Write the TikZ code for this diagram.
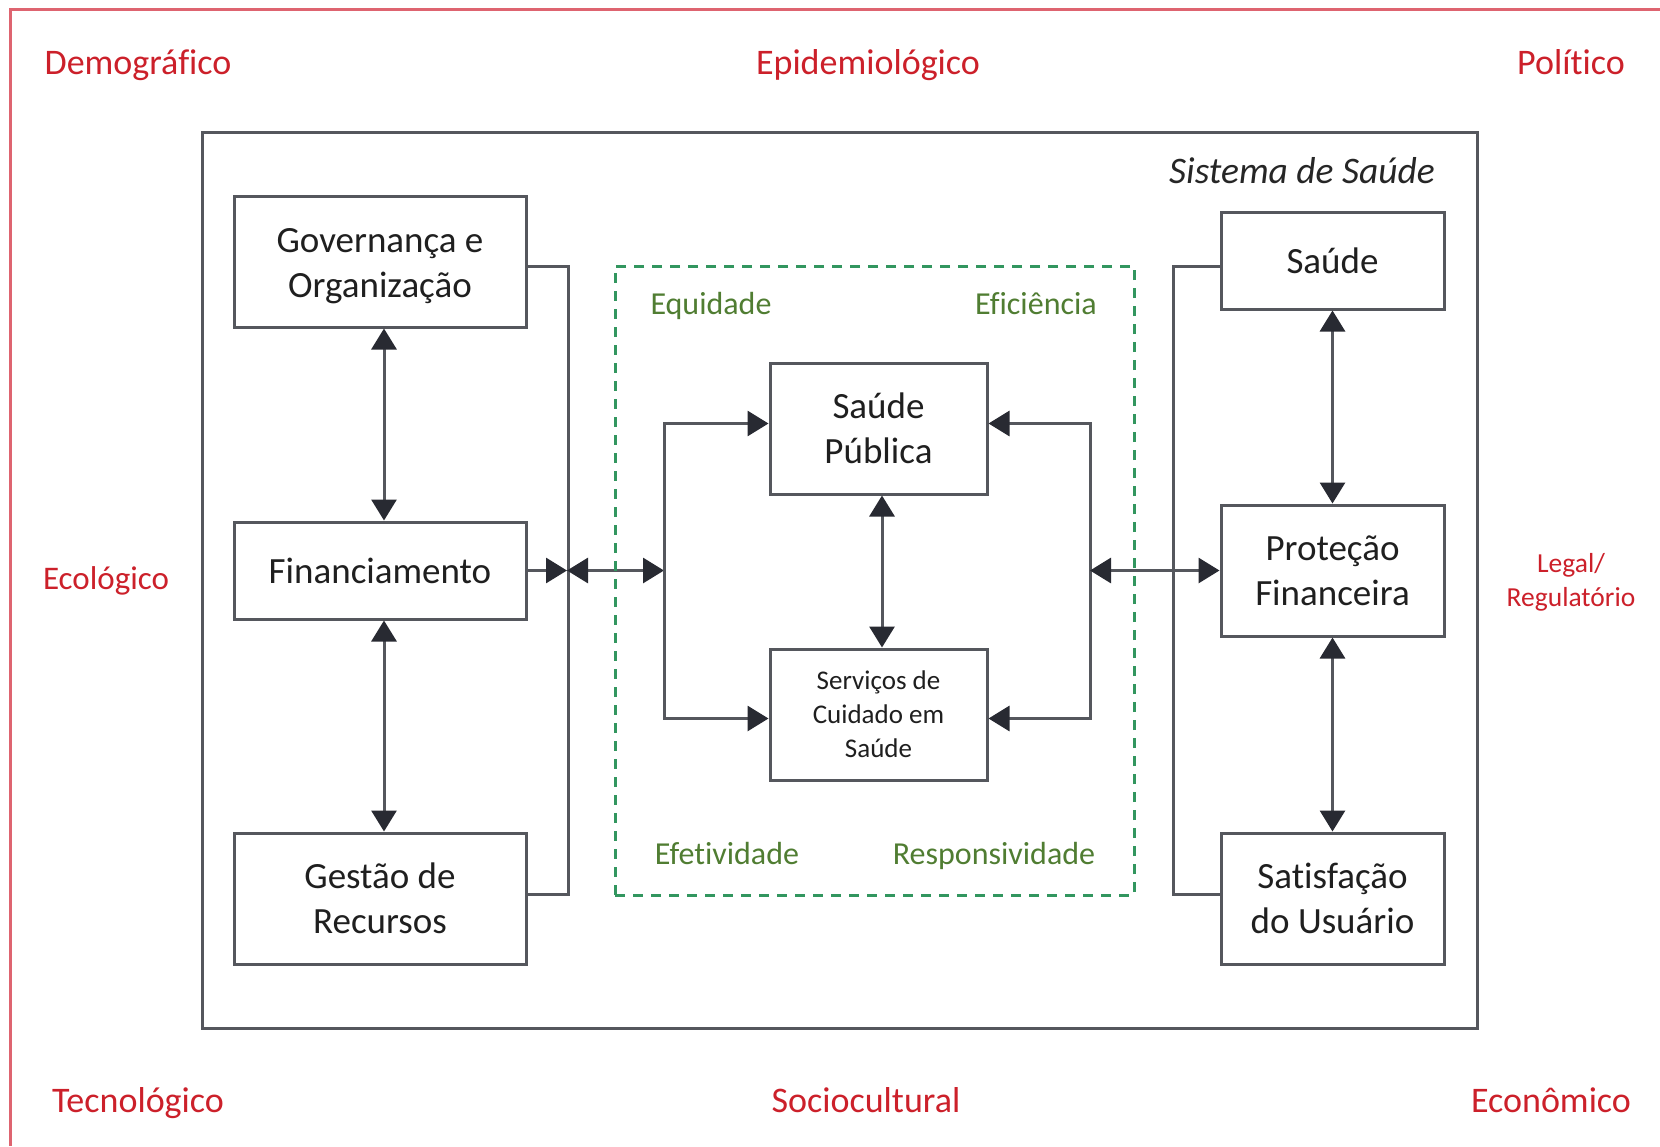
\documentclass[tikz,border=0pt]{standalone}
\usepackage{fontspec}
\setmainfont[Ligatures={NoCommon}]{Carlito}
\usetikzlibrary{arrows.meta}
\definecolor{redlab}{RGB}{204,32,42}
\definecolor{framec}{RGB}{222,100,112}
\definecolor{greenlab}{RGB}{80,125,50}
\definecolor{greendash}{RGB}{50,150,95}
\definecolor{linec}{RGB}{85,87,93}
\definecolor{tipc}{RGB}{40,42,50}
\begin{document}
\begin{tikzpicture}[x=1pt,y=-1pt,
  box/.style={draw=linec, line width=3pt, minimum width=292pt, align=center, inner sep=0pt,
    font=\fontsize{37}{45}\selectfont, text=black!88},
  conn/.style={draw=linec, line width=3pt},
  tip/.style={-{Triangle[length=21pt,width=25pt,color=tipc]}},
  both/.style={{Triangle[length=21pt,width=25pt,color=tipc]}-{Triangle[length=21pt,width=25pt,color=tipc]}},
  redl/.style={text=redlab, font=\fontsize{36}{44}\selectfont, inner sep=0pt, align=center},
  greenl/.style={text=greenlab, font=\fontsize{32}{38}\selectfont, inner sep=0pt, text height=22pt, text depth=6pt},
]
\useasboundingbox (0,0) rectangle (1660,1146);
\fill[white] (0,0) rectangle (1660,1146);

% outer frame
\draw[framec, line width=3pt] (10,1146) -- (10,9) -- (1660,9);

% context labels
\node[redl, anchor=base] (demo) at (138,74) {Demográfico};
\node[redl, anchor=base] (epid) at (868,74) {Epidemiológico};
\node[redl, anchor=base] (poli) at (1571,74) {Político};
\node[redl, anchor=base, font=\fontsize{33}{42}\selectfont] (ecol) at (106,589) {Ecológico};
\node[redl, font=\fontsize{27.5}{34}\selectfont] (legal) at (1571,582) {Legal/\\Regulatório};
\node[redl, anchor=base] (tecn) at (138,1112) {Tecnológico};
\node[redl, anchor=base] (soci) at (866,1112) {Sociocultural};
\node[redl, anchor=base] (econ) at (1551,1112) {Econômico};

% system box
\node[draw=linec, line width=3pt, minimum width=1275pt, minimum height=896pt, inner sep=0pt] (sys) at (839.5,580) {};
\node[anchor=east, font=\itshape\fontsize{37.5}{44}\selectfont, text=black!85, inner sep=0pt] (syslab) at (1435,171) {Sistema de Saúde};

% boxes
\node[box, minimum height=131pt] (gov) at (380,261.5) {\rule{0pt}{32.5pt}Governança e\\Organização};
\node[box, minimum height=97pt] (fin) at (380,570.5) {Financiamento};
\node[box, minimum height=131pt] (ges) at (380,898.5) {Gestão de\\Recursos};
\node[box, minimum width=217pt, minimum height=131pt] (sp) at (878.5,428.5) {Saúde\\Pública};
\node[box, minimum width=217pt, minimum height=131pt, font=\fontsize{27}{34}\selectfont] (sv) at (878.5,714.5) {Serviços de\\Cuidado em\\Saúde};
\node[box, minimum width=223pt, minimum height=97pt] (sa) at (1332.5,260.5) {Saúde};
\node[box, minimum width=223pt, minimum height=131pt] (pf) at (1332.5,570.5) {Proteção\\Financeira};
\node[box, minimum width=223pt, minimum height=131pt] (su) at (1332.5,898.5) {Satisfação\\do Usuário};

% connectors left
\draw[conn, both] ([xshift=4pt]gov.south) -- ([xshift=4pt]fin.north);
\draw[conn, both] ([xshift=4pt]fin.south) -- ([xshift=4pt]ges.north);
\draw[conn] ([yshift=-4.5pt]gov.east) -- ++(41,0) |- ([yshift=4.5pt]ges.east);
\coordinate (bl) at (567,570.5);
\coordinate (il) at (664,570.5);
\draw[conn, tip] (fin.east) -- (bl);
\draw[conn, both] (bl) -- (il);
\draw[conn, tip] (il) |- ([yshift=5pt]sp.west);
\draw[conn, tip] (il) |- ([yshift=-4pt]sv.west);

% center
\draw[conn, both] ([xshift=3.5pt]sp.south) -- ([xshift=3.5pt]sv.north);

% connectors right
\coordinate (ir) at (1090,570.5);
\draw[conn, tip] (ir) |- ([yshift=5pt]sp.east);
\draw[conn, tip] (ir) |- ([yshift=-4pt]sv.east);
\draw[conn, both] (ir) -- (pf.west);
\draw[conn] ([yshift=-6pt]sa.west) -- ++(-46,0) |- ([yshift=4.5pt]su.west);
\draw[conn, both] (sa.south) -- (pf.north);
\draw[conn, both] (pf.south) -- (su.north);

% dashed box
\node[draw=greendash, line width=3pt, dash pattern=on 10pt off 8pt, minimum width=519pt, minimum height=629pt, inner sep=0pt] (dbox) at (874.5,580.5) {};
\node[greenl] (equi) at (711,306) {Equidade};
\node[greenl] (efic) at (1036,306) {Eficiência};
\node[greenl] (efet) at (727,856) {Efetividade};
\node[greenl] (resp) at (994,856) {Responsividade};
\end{tikzpicture}
\end{document}
